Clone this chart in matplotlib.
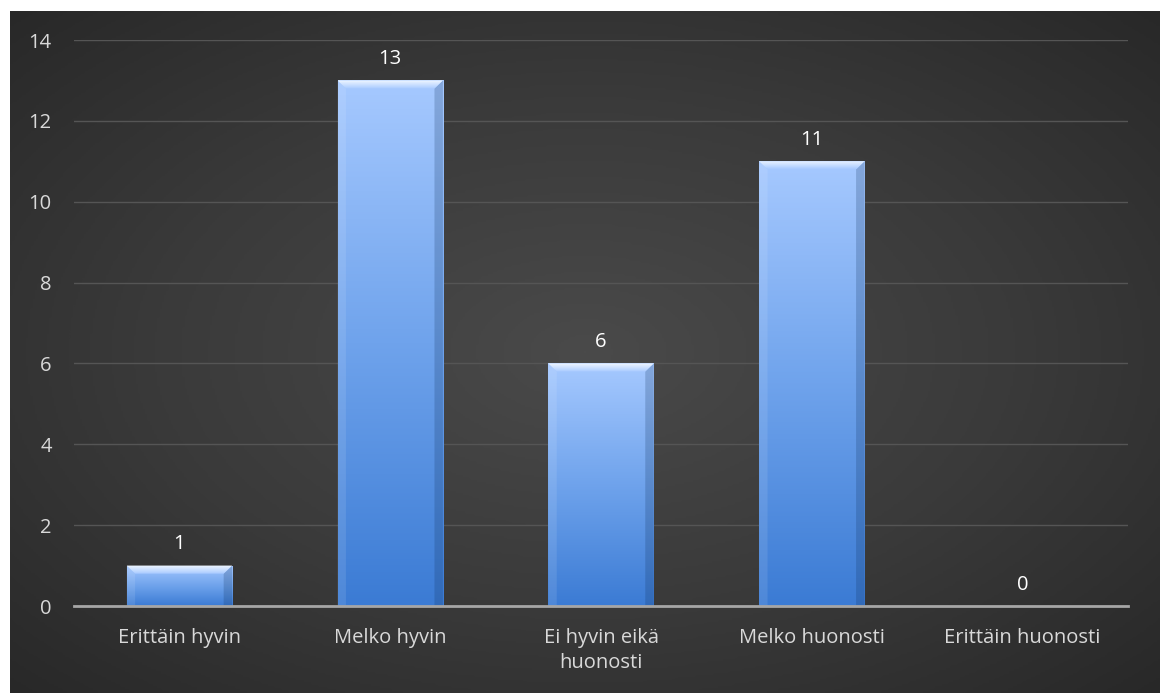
import numpy as np
import matplotlib.pyplot as plt
from matplotlib.colors import LinearSegmentedColormap
from matplotlib.patches import Polygon

categories = ["Erittäin hyvin", "Melko hyvin", "Ei hyvin eikä\nhuonosti",
              "Melko huonosti", "Erittäin huonosti"]
values = [1, 13, 6, 11, 0]
yticks = [0, 2, 4, 6, 8, 10, 12, 14]

plt.rcParams['font.family'] = ['Open Sans', 'DejaVu Sans']

W, H = 1160, 693
fig = plt.figure(figsize=(W / 100, H / 100), dpi=100, facecolor='white')

# dark panel with a soft radial glow
bg = fig.add_axes([10 / W, 0, 1150 / W, 682 / H])
yy, xx = np.mgrid[0:1:300j, 0:1:500j]
r = np.sqrt(((xx - 0.5) / 0.75) ** 2 + ((yy - 0.5) / 0.75) ** 2)
r = np.clip(r, 0, 1)
bg_cmap = LinearSegmentedColormap.from_list('bg', ['#4a4a4a', '#3a3a3a', '#262626'])
bg.imshow(r, cmap=bg_cmap, aspect='auto', extent=[0, 1, 0, 1], vmin=0, vmax=1)
bg.set_axis_off()

ax = fig.add_axes([74 / W, 1 - 606 / H, (1128 - 74) / W, (606 - 40) / H])
ax.patch.set_alpha(0)
ax.set_xlim(-0.5, len(categories) - 0.5)
ax.set_ylim(0, 14)
ax.set_yticks(yticks)
ax.set_xticks(range(len(categories)))
ax.set_xticklabels(categories, linespacing=1.3)
ax.yaxis.grid(True, color='#555555', linewidth=1)
ax.set_axisbelow(True)
for side in ['top', 'right', 'left']:
    ax.spines[side].set_visible(False)
ax.spines['bottom'].set_color('#a6a6a6')
ax.spines['bottom'].set_linewidth(2)
ax.spines['bottom'].set_zorder(5)
ax.tick_params(axis='both', length=0, labelsize=14.5, colors='#d9d9d9')
ax.tick_params(axis='y', pad=16)
ax.tick_params(axis='x', pad=16)

bars = ax.bar(range(len(categories)), values, width=0.5, color='none', zorder=2)

bar_cmap = LinearSegmentedColormap.from_list('bar', ['#3b7bd4', '#6fa3ec', '#a6c9ff'])
grad = np.linspace(0, 1, 256).reshape(-1, 1)
top_cmap = LinearSegmentedColormap.from_list('top', ['#a6c9ff', '#f2f8ff'])
dx, dy = 0.04, 0.2
for b, v in zip(bars, values):
    if v <= 0:
        continue
    x0, w, h = b.get_x(), b.get_width(), b.get_height()
    x1 = x0 + w
    im = ax.imshow(grad, cmap=bar_cmap, aspect='auto', origin='lower',
                   extent=[x0, x1, 0, h], zorder=2)
    im.set_clip_path(b)
    # bevel: bright top edge, lighter left, darker right
    ax.add_patch(Polygon([(x0, 0), (x0, h), (x0 + dx, h - dy), (x0 + dx, 0)],
                         closed=True, facecolor='white', alpha=0.1,
                         edgecolor='none', zorder=3))
    ax.add_patch(Polygon([(x1, 0), (x1, h), (x1 - dx, h - dy), (x1 - dx, 0)],
                         closed=True, facecolor='#10305a', alpha=0.22,
                         edgecolor='none', zorder=3))
    top = Polygon([(x0, h), (x1, h), (x1 - dx, h - dy), (x0 + dx, h - dy)],
                  closed=True, facecolor='none', edgecolor='none', zorder=4)
    ax.add_patch(top)
    tim = ax.imshow(grad, cmap=top_cmap, aspect='auto', origin='lower',
                    extent=[x0, x1, h - dy, h], zorder=4)
    tim.set_clip_path(top)

for i, v in enumerate(values):
    ax.annotate(str(v), (i, v), xytext=(0, 8), textcoords='offset points',
                ha='center', va='bottom', fontsize=14.5, color='white')

ax.set_xlim(-0.5, len(categories) - 0.5)
ax.set_ylim(0, 14)

fig.savefig('out.png', dpi=100, facecolor=fig.get_facecolor())
